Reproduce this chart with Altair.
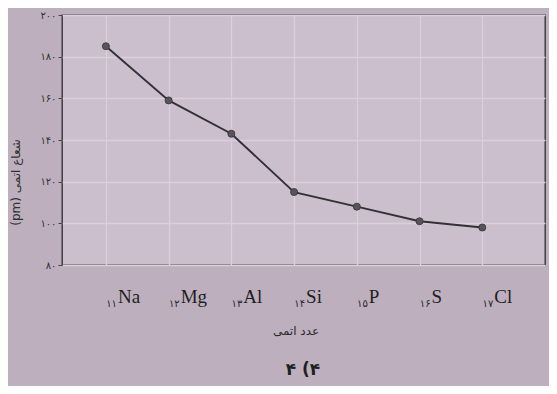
import altair as alt
import pandas as pd

elements = ["Na", "Mg", "Al", "Si", "P", "S", "Cl"]
atomic_numbers = [11, 12, 13, 14, 15, 16, 17]
atomic_labels = ["۱۱", "۱۲", "۱۳", "۱۴", "۱۵", "۱۶", "۱۷"]
radius_pm = [185, 159, 143, 115, 108, 101, 98]
y_ticks = [80, 100, 120, 140, 160, 180, 200]
y_tick_labels = ["۸۰", "۱۰۰", "۱۲۰", "۱۴۰", "۱۶۰", "۱۸۰", "۲۰۰"]
y_title = "(pm) شعاع اتمی"
x_title = "عدد اتمی"
option_text = "۴ (۴"

df = pd.DataFrame({"z": atomic_numbers, "el": elements, "zl": atomic_labels, "r": radius_pm})

W, H = 483, 250
label_expr = " : ".join(f"datum.value == {v} ? '{l}'" for v, l in zip(y_ticks, y_tick_labels)) + " : ''"

x_enc = alt.X("z:Q", scale=alt.Scale(domain=[10.3, 18], nice=False, zero=False),
              axis=alt.Axis(values=atomic_numbers, labels=False, ticks=False, domain=False,
                            grid=True, gridColor="#d9d0db", gridWidth=1.3, title=None))
y_enc = alt.Y("r:Q", scale=alt.Scale(domain=[80, 200], nice=False, zero=False),
              axis=alt.Axis(values=y_ticks, labelExpr=label_expr, grid=True, gridColor="#d9d0db",
                            gridWidth=1.3, domain=False, tickSize=4, tickColor="#444",
                            labelFontSize=10, labelColor="#333", labelPadding=2,
                            labelFont="DejaVu Sans",
                            title=y_title, titleFont="DejaVu Sans", titleFontSize=12,
                            titleFontWeight="normal", titleColor="#333",
                            titleX=-40, titleY=167, titleAngle=270))

base = alt.Chart(df)
line = base.mark_line(color="#333136", strokeWidth=1.9).encode(x=x_enc, y=y_enc)
pts = base.mark_circle(size=50, color="#57545a", opacity=1, stroke="#333136", strokeWidth=0.8).encode(x="z:Q", y="r:Q")
subs = base.mark_text(align="right", baseline="alphabetic", dx=11, fontSize=10,
                      font="DejaVu Sans", color="#2a2a2a").encode(x="z:Q", y=alt.value(292), text="zl:N")
syms = base.mark_text(align="left", baseline="alphabetic", dx=12, fontSize=19,
                      font="Liberation Serif", color="#1f1f1f").encode(x="z:Q", y=alt.value(288), text="el:N")
xt = alt.Chart(pd.DataFrame({"t": [x_title]})).mark_text(
    fontSize=12, font="DejaVu Sans", color="#2a2a2a").encode(
    x=alt.value(234), y=alt.value(316), text="t:N")
opt = alt.Chart(pd.DataFrame({"t": [option_text]})).mark_text(
    fontSize=17, fontWeight="bold", font="DejaVu Sans", color="#1f1f1f").encode(
    x=alt.value(241), y=alt.value(355), text="t:N")

chart = alt.layer(line, pts, subs, syms, xt, opt).properties(
    width=W, height=H,
    autosize=alt.AutoSizeParams(type="none"),
    padding={"left": 54, "top": 7, "right": 4, "bottom": 121},
    background="#bdafbe",
).configure_view(fill="#cbbfcd", stroke="#2e2c30", strokeWidth=1.3)

chart.save("out.html", embed_options={"renderer": "svg", "actions": False})
